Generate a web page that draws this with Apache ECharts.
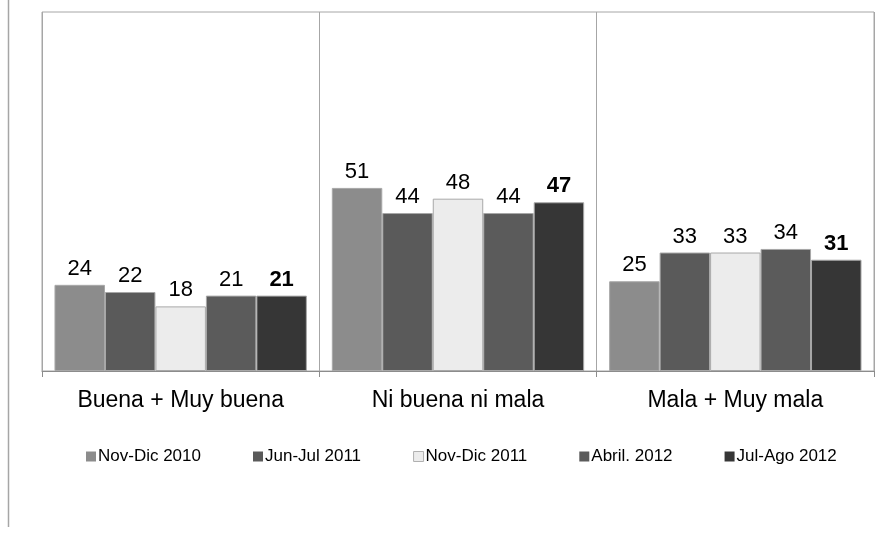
<!DOCTYPE html>
<html>
<head>
<meta charset="utf-8">
<script src="https://cdn.jsdelivr.net/npm/echarts@6/dist/echarts.min.js"></script>
<style>
  html, body { margin: 0; padding: 0; background: #fff; }
  #chart { width: 896px; height: 541px; }
</style>
</head>
<body>
<div id="chart"></div>
<script>
// categories and series
var categories = ['Buena + Muy buena', 'Ni buena ni mala', 'Mala + Muy mala'];
var seriesNames = ['Nov-Dic 2010', 'Jun-Jul 2011', 'Nov-Dic 2011', 'Abril. 2012', 'Jul-Ago 2012'];
var novDic2010 = [24, 51, 25];
var junJul2011 = [22, 44, 33];
var novDic2011 = [18, 48, 33];
var abril2012 = [21, 44, 34];
var julAgo2012 = [21, 47, 31];

var values = [novDic2010, junJul2011, novDic2011, abril2012, julAgo2012];
var colors = ['#8c8c8c', '#5a5a5a', '#ececec', '#5b5b5b', '#363636'];

var chart = echarts.init(document.getElementById('chart'));

var series = seriesNames.map(function (name, i) {
  return {
    name: name,
    type: 'bar',
    data: values[i],
    barGap: '0%',
    barCategoryGap: '9%',
    itemStyle: { color: colors[i], borderColor: '#a8a8a8', borderWidth: 1 },
    label: {
      show: true,
      position: 'top',
      distance: 5,
      color: '#000',
      fontSize: 22,
      fontFamily: 'Liberation Sans',
      fontWeight: i === 4 ? 'bold' : 'normal'
    }
  };
});

// legend entries, the light one keeps a thin outline
var legendData = seriesNames.map(function (name, i) {
  return {
    name: name,
    itemStyle: i === 2 ? { borderColor: '#b0b0b0', borderWidth: 1 } : { borderWidth: 0 }
  };
});

chart.setOption({
  animation: false,
  grid: {
    left: 42, right: 22, top: 12, bottom: 170,
    show: true, borderColor: '#a6a6a6', borderWidth: 1
  },
  legend: {
    data: legendData,
    top: 443,
    left: 81,
    itemWidth: 10,
    itemHeight: 10,
    itemGap: 52,
    icon: 'rect',
    textStyle: { fontSize: 17, fontFamily: 'Liberation Sans', color: '#000', padding: [0, 0, 0, -3] }
  },
  xAxis: {
    type: 'category',
    data: categories,
    axisLine: { lineStyle: { color: '#8c8c8c', width: 1 } },
    axisTick: { show: true, length: 6, lineStyle: { color: '#8c8c8c' } },
    splitLine: { show: true, lineStyle: { color: '#a6a6a6', width: 1 } },
    axisLabel: { fontSize: 23, fontFamily: 'Liberation Sans', color: '#000', margin: 18 }
  },
  yAxis: {
    type: 'value',
    min: 0,
    max: 100,
    show: false,
    splitLine: { show: false }
  },
  graphic: [{
    type: 'line',
    shape: { x1: 8.5, y1: 0, x2: 8.5, y2: 527 },
    style: { stroke: '#a6a6a6', lineWidth: 1.5 }
  }],
  series: series
});
</script>
</body>
</html>
